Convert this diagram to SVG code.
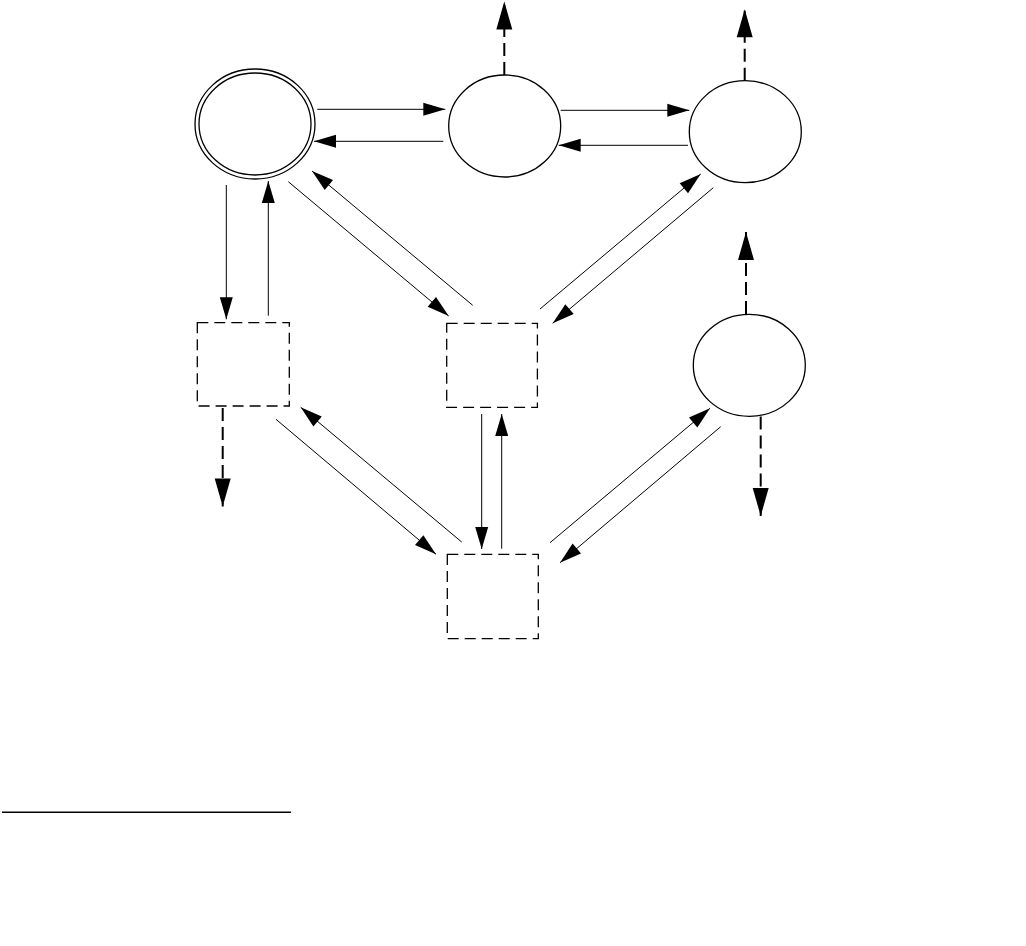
<svg xmlns="http://www.w3.org/2000/svg" width="1026" height="946" viewBox="0 0 1026 946">
<style>
.node{fill:#fff;stroke:#000;stroke-width:1.3}
.box{fill:none;stroke:#000;stroke-width:1.3;stroke-dasharray:11,6}
.edge{stroke:#000;stroke-width:1;fill:none;marker-end:url(#ah)}
.dedge{stroke:#000;stroke-width:2;fill:none;stroke-dasharray:13,6;marker-end:url(#dh)}
</style>
<defs>
<marker id="ah" markerUnits="userSpaceOnUse" markerWidth="22" markerHeight="13" refX="22" refY="6.5" orient="auto" overflow="visible">
<path d="M0,0 L22,6.5 L0,13 z" fill="#000"/>
</marker>
<marker id="dh" markerUnits="userSpaceOnUse" markerWidth="28" markerHeight="16" refX="28" refY="8" orient="auto" overflow="visible">
<path d="M0,0 L28,8 L0,16 z" fill="#000"/>
</marker>
</defs>
<rect width="1026" height="946" fill="#fff"/>
<g id="nodeA">
<ellipse class="node" cx="255" cy="124" rx="60" ry="55"/>
<ellipse class="node" cx="255" cy="124" rx="56" ry="51"/>
</g>
<g id="nodeB"><ellipse class="node" cx="504.7" cy="126" rx="56" ry="51"/></g>
<g id="nodeC"><ellipse class="node" cx="745.3" cy="131.7" rx="56" ry="51"/></g>
<g id="nodeD"><ellipse class="node" cx="749.3" cy="365.3" rx="56" ry="51"/></g>
<g id="box1"><rect class="box" x="197.3" y="322.7" width="92" height="83.3"/></g>
<g id="box2"><rect class="box" x="446.7" y="323.3" width="90.7" height="84"/></g>
<g id="box3"><rect class="box" x="447.3" y="554.3" width="91" height="84.4"/></g>
<g id="connectors">
<line class="edge" x1="317.3" y1="109.3" x2="445.3" y2="109.3"/>
<line class="edge" x1="443.3" y1="141.3" x2="314" y2="141.3"/>
<line class="edge" x1="560.7" y1="110.3" x2="689.3" y2="110.3"/>
<line class="edge" x1="688" y1="145.3" x2="558.7" y2="145.3"/>
<line class="edge" x1="226.3" y1="185" x2="226.3" y2="319.3"/>
<line class="edge" x1="268.3" y1="315.7" x2="268.3" y2="181"/>
<line class="edge" x1="288.3" y1="181.7" x2="448.7" y2="316"/>
<line class="edge" x1="472.7" y1="305.3" x2="312" y2="171"/>
<line class="edge" x1="540" y1="309" x2="700.7" y2="174"/>
<line class="edge" x1="713.3" y1="187.7" x2="552.7" y2="323.3"/>
<line class="edge" x1="481.7" y1="414" x2="481.7" y2="549"/>
<line class="edge" x1="501.7" y1="548.7" x2="501.7" y2="414"/>
<line class="edge" x1="276" y1="419.3" x2="436" y2="554.3"/>
<line class="edge" x1="461.7" y1="542" x2="300.7" y2="407.3"/>
<line class="edge" x1="550" y1="542.7" x2="710" y2="408.3"/>
<line class="edge" x1="720.7" y1="426.7" x2="560" y2="562.7"/>
<line class="dedge" x1="504.3" y1="75" x2="504.3" y2="1.5"/>
<line class="dedge" x1="744.7" y1="80.7" x2="744.7" y2="9.3"/>
<line class="dedge" x1="746" y1="314" x2="746" y2="232"/>
<line class="dedge" x1="760.7" y1="416.5" x2="760.7" y2="516"/>
<line class="dedge" x1="222.7" y1="408" x2="222.7" y2="506.5"/>
</g>
<line x1="2" y1="812.3" x2="291" y2="812.3" stroke="#000" stroke-width="1.4"/>
</svg>
